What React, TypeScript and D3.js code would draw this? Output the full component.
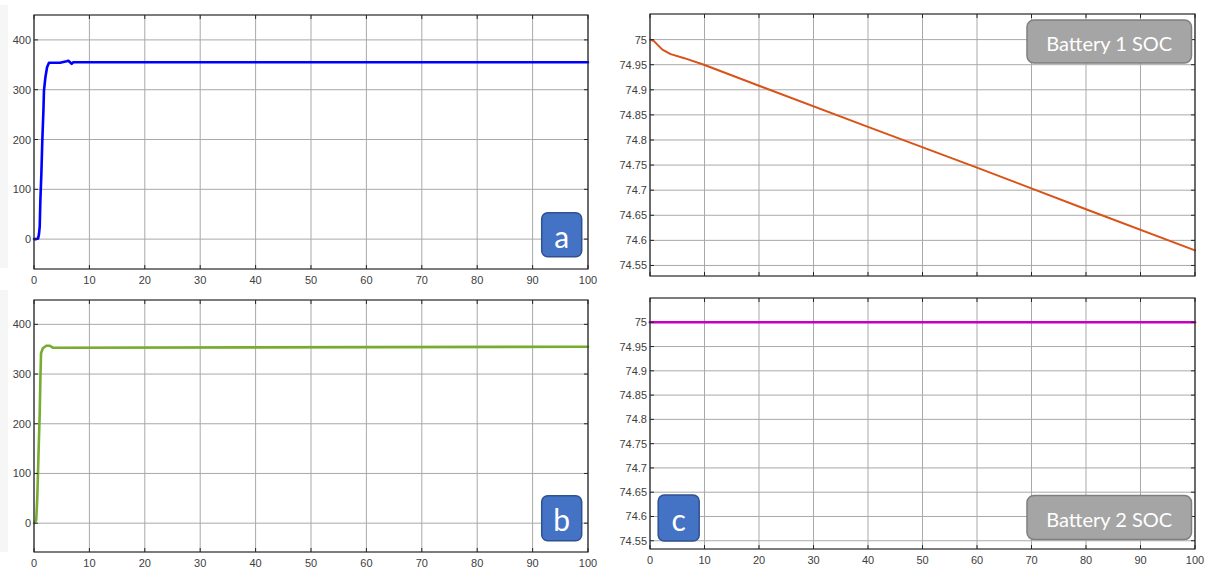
import React from "react";
import * as d3 from "d3";

// Simulation time grid shared by all panels (seconds)
const xTicks = [0, 10, 20, 30, 40, 50, 60, 70, 80, 90, 100];
const speedTicks = [0, 100, 200, 300, 400];
const socTicks = [74.55, 74.6, 74.65, 74.7, 74.75, 74.8, 74.85, 74.9, 74.95, 75];

// (a) motor 1 speed response
const speedA_t = [0, 0.4, 0.73, 0.9, 1.03, 1.15, 1.33, 1.5, 1.7, 1.8, 2.06, 2.36, 2.7, 4.7, 5.9, 6.2, 6.8, 7.1, 100];
const speedA_v = [0, 0, 1, 10, 25, 78, 131, 198, 258, 298, 325, 345, 354, 354, 357, 358, 352, 355, 355];

// (b) motor 2 speed response
const speedB_t = [0, 0.4, 0.6, 0.85, 1.03, 1.15, 1.27, 1.6, 2.2, 2.8, 3.4, 100];
const speedB_v = [0, 6, 53, 154, 221, 288, 342, 352, 357, 357, 353, 355];

// Battery 1 state of charge (%)
const soc1_t = [0, 0.74, 1.35, 2.27, 3.8, 6.3, 9.9, 20, 40, 60, 80, 100];
const soc1_v = [75, 74.997, 74.99, 74.98, 74.971, 74.963, 74.95, 74.908, 74.826, 74.745, 74.662, 74.58];

// Battery 2 state of charge (%)
const soc2_t = [0, 100];
const soc2_v = [75, 75];

type Pt = [number, number];
const zip = (t: number[], v: number[]): Pt[] => t.map((x, i) => [x, v[i]]);

interface PanelProps {
  x0: number; x1: number; y0: number; y1: number;
  yDomain: [number, number];
  yTicks: number[];
  yFmt: (v: number) => string;
  showXLabels: boolean;
  data: Pt[];
  color: string;
  width: number;
}

const FONT = "'Liberation Sans', Arial, sans-serif";

function Panel(p: PanelProps) {
  const x = d3.scaleLinear().domain([0, 100]).range([p.x0, p.x1]);
  const y = d3.scaleLinear().domain(p.yDomain).range([p.y1, p.y0]);
  const line = d3.line<Pt>().x(d => x(d[0])).y(d => y(d[1]));
  const tl = 4;
  return (
    <g>
      {xTicks.map(t => (
        <line key={"gx" + t} x1={x(t)} x2={x(t)} y1={p.y0} y2={p.y1} stroke="#a9a9a9" strokeWidth={1} />
      ))}
      {p.yTicks.map(t => (
        <line key={"gy" + t} x1={p.x0} x2={p.x1} y1={y(t)} y2={y(t)} stroke="#a9a9a9" strokeWidth={1} />
      ))}
      <path d={line(p.data) || ""} fill="none" stroke={p.color} strokeWidth={p.width} strokeLinejoin="round" strokeLinecap="round" />
      {xTicks.map(t => (
        <g key={"tx" + t}>
          <line x1={x(t)} x2={x(t)} y1={p.y1} y2={p.y1 - tl} stroke="#262626" />
          <line x1={x(t)} x2={x(t)} y1={p.y0} y2={p.y0 + tl} stroke="#262626" />
        </g>
      ))}
      {p.yTicks.map(t => (
        <g key={"ty" + t}>
          <line x1={p.x0} x2={p.x0 + tl} y1={y(t)} y2={y(t)} stroke="#262626" />
          <line x1={p.x1} x2={p.x1 - tl} y1={y(t)} y2={y(t)} stroke="#262626" />
        </g>
      ))}
      <rect x={p.x0} y={p.y0} width={p.x1 - p.x0} height={p.y1 - p.y0} fill="none" stroke="#262626" strokeWidth={1.2} />
      {p.yTicks.map(t => (
        <text key={"ly" + t} x={p.x0 - 3} y={y(t)} textAnchor="end" dominantBaseline="central"
          fontFamily={FONT} fontSize={11} fill="#404040">{p.yFmt(t)}</text>
      ))}
      {p.showXLabels && xTicks.map(t => (
        <text key={"lx" + t} x={x(t)} y={p.y1 + 11} textAnchor="middle" dominantBaseline="central"
          fontFamily={FONT} fontSize={11} fill="#404040">{t}</text>
      ))}
    </g>
  );
}

function Tag({ cx, cy, w, h, text }: { cx: number; cy: number; w: number; h: number; text: string }) {
  return (
    <g>
      <rect x={cx - w / 2} y={cy - h / 2} width={w} height={h} rx={6} fill="#4472c4" stroke="#2f528f" strokeWidth={1.5} />
      <text x={cx} y={cy + 1} textAnchor="middle" dominantBaseline="central" fontFamily="Lato, 'Open Sans', sans-serif"
        fontSize={30} fill="#ffffff">{text}</text>
    </g>
  );
}

function Title({ x0, x1, y0, y1, text }: { x0: number; x1: number; y0: number; y1: number; text: string }) {
  return (
    <g>
      <rect x={x0} y={y0} width={x1 - x0} height={y1 - y0} rx={7} fill="#a5a5a5" stroke="#7f7f7f" strokeWidth={1.5} />
      <text x={(x0 + x1) / 2} y={(y0 + y1) / 2 + 1} textAnchor="middle" dominantBaseline="central"
        fontFamily="Lato, 'Open Sans', sans-serif" fontSize={20} fill="#ffffff">{text}</text>
    </g>
  );
}

export default function App() {
  const speedFmt = (v: number) => String(v);
  const socFmt = (v: number) => String(+v.toFixed(2));
  return (
    <svg width={1210} height={569} style={{ position: "absolute", left: 0, top: 0, background: "#ffffff" }}>
      <rect x={0} y={0} width={1210} height={569} fill="#ffffff" />
      <rect x={0} y={5} width={8} height={263} fill="#f6f6f6" />
      <rect x={0} y={290} width={8} height={262} fill="#f6f6f6" />
      <Panel x0={34} x1={588} y0={15} y1={269} yDomain={[-60, 450]} yTicks={speedTicks} yFmt={speedFmt}
        showXLabels data={zip(speedA_t, speedA_v)} color="#0000ff" width={2.6} />
      <Panel x0={34} x1={588} y0={300} y1={552} yDomain={[-58, 449]} yTicks={speedTicks} yFmt={speedFmt}
        showXLabels data={zip(speedB_t, speedB_v)} color="#77ac30" width={2.6} />
      <Panel x0={650} x1={1195} y0={14} y1={276} yDomain={[74.529, 75.051]} yTicks={socTicks} yFmt={socFmt}
        showXLabels={false} data={zip(soc1_t, soc1_v)} color="#d95319" width={2} />
      <Panel x0={650} x1={1195} y0={298} y1={549} yDomain={[74.533, 75.05]} yTicks={socTicks} yFmt={socFmt}
        showXLabels data={zip(soc2_t, soc2_v)} color="#c400c4" width={2.6} />
      <Tag cx={561.7} cy={234.7} w={40} h={44} text="a" />
      <Tag cx={561.7} cy={518.2} w={40} h={45} text="b" />
      <Tag cx={678.7} cy={518} w={41} h={46} text="c" />
      <Title x0={1027} x1={1191.5} y0={20} y1={63} text="Battery 1 SOC" />
      <Title x0={1027} x1={1191.5} y0={495.5} y1={539.5} text="Battery 2 SOC" />
    </svg>
  );
}
